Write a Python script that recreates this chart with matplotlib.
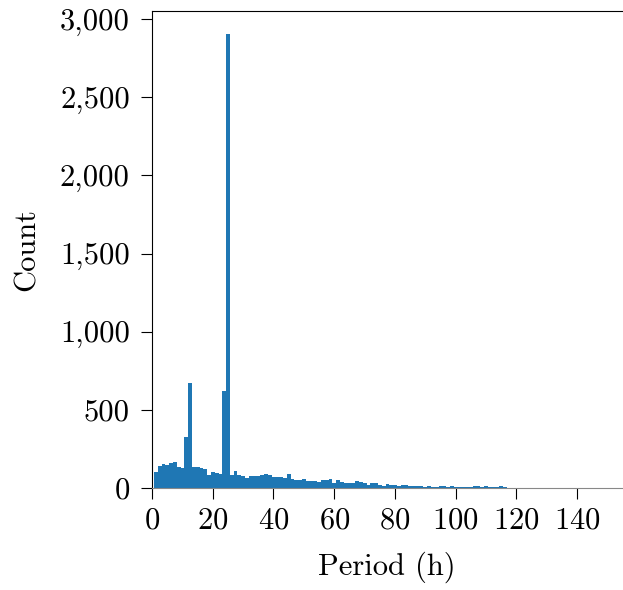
import numpy as np
import matplotlib
matplotlib.use("Agg")
import matplotlib.pyplot as plt
from matplotlib.ticker import FuncFormatter

plt.rcParams["font.family"] = "serif"
plt.rcParams["font.serif"] = ["cmr10"]
plt.rcParams["mathtext.fontset"] = "cm"
plt.rcParams["axes.unicode_minus"] = False
plt.rcParams["axes.formatter.use_mathtext"] = True

# histogram of detected periods, ~1.25 h bins
bin_edges = np.linspace(0.65, 149.4, 120)
counts = [
    103, 140, 155, 148, 158, 165, 135, 130, 323, 669,
    132, 137, 128, 124, 85, 103, 95, 90, 620, 2906,
    80, 108, 80, 78, 62, 79, 77, 79, 80, 88,
    84, 70, 68, 68, 62, 88, 56, 49, 49, 56,
    43, 45, 43, 36, 49, 49, 56, 30, 49, 36,
    30, 30, 30, 43, 40, 30, 17, 30, 30, 20,
    15, 23, 17, 17, 15, 17, 17, 15, 11, 15,
    15, 6, 15, 4, 4, 11, 11, 5, 11, 8,
    4, 4, 4, 4, 10, 10, 5, 11, 4, 4,
    5, 11, 4, 2, 1, 1, 2, 1, 1, 1,
    1, 2, 1, 1, 1, 1, 1, 1, 1, 1,
    1, 1, 1, 1, 1, 1, 1, 1, 1,
]
xticks = [0, 20, 40, 60, 80, 100, 120, 140]
yticks = [0, 500, 1000, 1500, 2000, 2500, 3000]

fig = plt.figure(figsize=(6.23, 5.9), dpi=100)
ax = fig.add_axes([0.244, 0.173, 0.7545, 0.808])

ax.bar(bin_edges[:-1], counts, width=np.diff(bin_edges), align="edge",
       color="#1f77b4", linewidth=0)

ax.set_xlim(0, 154.8)
ax.set_xticks(xticks)
ax.set_yticks(yticks)
ax.yaxis.set_major_formatter(FuncFormatter(lambda v, p: f"{int(v):,}"))

ax.spines["right"].set_visible(False)
for s in ["left", "top", "bottom"]:
    ax.spines[s].set_linewidth(0.8)
ax.spines["bottom"].set_color("#888888")
ax.tick_params(axis="both", direction="out", length=8, width=0.8,
               labelsize=22)
ax.tick_params(axis="y", pad=8)
ax.tick_params(axis="x", pad=6)

ax.set_xlabel("Period (h)", fontsize=22, labelpad=12)
ax.set_ylabel("Count", fontsize=22, labelpad=14)

fig.savefig("out.png", dpi=100)
